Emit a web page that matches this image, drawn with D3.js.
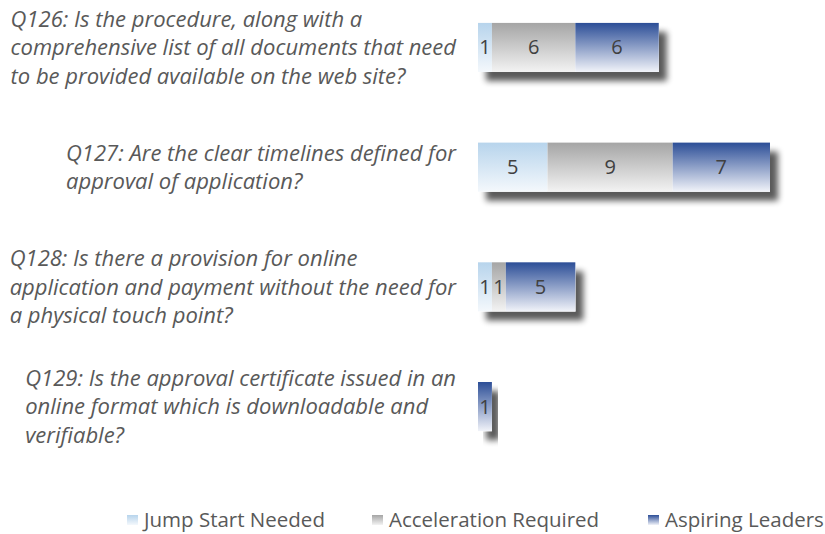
<!DOCTYPE html>
<html>
<head>
<meta charset="utf-8">
<script src="https://cdn.jsdelivr.net/npm/d3@7"></script>
<style>
  body { margin: 0; background: #fff; }
  svg { display: block; }
</style>
</head>
<body>
<script>
// questions, one line per array entry (wrapped as in the original)
var questions = [
  ['Q126: Is the procedure, along with a', 'comprehensive list of all documents that need', 'to be provided available on the web site?'],
  ['Q127: Are the clear timelines defined for', 'approval of application?'],
  ['Q128: Is there a provision for online', 'application and payment without the need for', 'a physical touch point?'],
  ['Q129: Is the approval certificate issued in an', 'online format which is downloadable and', 'verifiable?']
]
var series = ['Jump Start Needed', 'Acceleration Required', 'Aspiring Leaders']
var jumpStart = [1, 5, 1, 0]
var acceleration = [6, 9, 1, 0]
var aspiring = [6, 7, 5, 1]

var colors = {
  'Jump Start Needed': ['#b7d4ec', '#f4f8fc'],
  'Acceleration Required': ['#a5a5a5', '#f3f3f3'],
  'Aspiring Leaders': ['#2c4e97', '#f1f3f9']
}
var font = '"Open Sans", Lato, sans-serif'

var W = 825, H = 534
var svg = d3.select('body').append('svg').attr('width', W).attr('height', H)
var defs = svg.append('defs')

series.forEach(function(s, i) {
  var g = defs.append('linearGradient').attr('id', 'grad' + i)
    .attr('x1', 0).attr('y1', 0).attr('x2', 0).attr('y2', 1)
  g.append('stop').attr('offset', '0%').attr('stop-color', colors[s][0])
  g.append('stop').attr('offset', '100%').attr('stop-color', colors[s][1])
})

var shadow = defs.append('filter').attr('id', 'shadow')
  .attr('x', '-20%').attr('y', '-20%').attr('width', '160%').attr('height', '180%')
shadow.append('feGaussianBlur').attr('in', 'SourceAlpha').attr('stdDeviation', 3).attr('result', 'b')
shadow.append('feOffset').attr('in', 'b').attr('dx', 8).attr('dy', 9).attr('result', 'o')
shadow.append('feComponentTransfer').attr('in', 'o').attr('result', 's')
  .append('feFuncA').attr('type', 'linear').attr('slope', 0.65)
var merge = shadow.append('feMerge')
merge.append('feMergeNode').attr('in', 's')
merge.append('feMergeNode').attr('in', 'SourceGraphic')

var table = questions.map(function(q, i) {
  return { q: q, values: [jumpStart[i], acceleration[i], aspiring[i]] }
})

var y = d3.scaleBand().domain(d3.range(questions.length)).range([-13, 467]).paddingInner(0.59).paddingOuter(0.3)
var x = d3.scaleLinear().domain([0, 21]).range([478, 770])

var rows = svg.selectAll('g.row').data(table).enter().append('g').attr('class', 'row')

rows.each(function(d, i) {
  var row = d3.select(this)
  var y0 = y(i), bh = y.bandwidth()
  var segs = []
  var acc = 0
  d.values.forEach(function(v, k) {
    if (v > 0) segs.push({ k: k, x0: acc, x1: acc + v, v: v })
    acc += v
  })
  var total = acc
  // shadow under whole bar
  row.append('rect')
    .attr('x', x(0)).attr('y', y0)
    .attr('width', x(total) - x(0)).attr('height', bh)
    .attr('fill', '#fff').attr('filter', 'url(#shadow)')
  row.selectAll('rect.seg').data(segs).enter().append('rect')
    .attr('class', 'seg')
    .attr('x', function(s) { return x(s.x0) })
    .attr('y', y0)
    .attr('width', function(s) { return x(s.x1) - x(s.x0) })
    .attr('height', bh)
    .attr('fill', function(s) { return 'url(#grad' + s.k + ')' })
  row.selectAll('text.val').data(segs).enter().append('text')
    .attr('class', 'val')
    .attr('x', function(s) { return (x(s.x0) + x(s.x1)) / 2 })
    .attr('y', y0 + bh / 2)
    .attr('dy', '0.35em')
    .attr('text-anchor', 'middle')
    .attr('font-family', font)
    .attr('font-size', 20)
    .attr('fill', '#404040')
    .text(function(s) { return s.v })

  // question label: left aligned lines, block aligned right to the bars
  var lh = 28.5
  var cy = y0 + bh / 2
  var t = row.append('text')
    .attr('font-family', font)
    .attr('font-style', 'italic')
    .attr('font-size', 22)
    .attr('fill', '#595959')
  d.q.forEach(function(line, j) {
    t.append('tspan')
      .attr('y', cy + (j - (d.q.length - 1) / 2) * lh)
      .attr('dy', '0.35em')
      .text(line)
  })
  var maxW = 0
  t.selectAll('tspan').each(function() { maxW = Math.max(maxW, this.getComputedTextLength()) })
  t.selectAll('tspan').attr('x', 456 - maxW)
})

// legend
var legendX = [127, 372, 648]
var legend = svg.selectAll('g.legend').data(series).enter().append('g')
  .attr('transform', function(s, i) { return 'translate(' + legendX[i] + ',520)' })
legend.append('rect')
  .attr('x', 0).attr('y', -5).attr('width', 11).attr('height', 10)
  .attr('fill', function(s, i) { return 'url(#grad' + i + ')' })
legend.append('text')
  .attr('x', 17).attr('dy', '0.35em')
  .attr('font-family', font)
  .attr('font-size', 20.5)
  .attr('fill', '#595959')
  .text(function(s) { return s })
</script>
</body>
</html>
